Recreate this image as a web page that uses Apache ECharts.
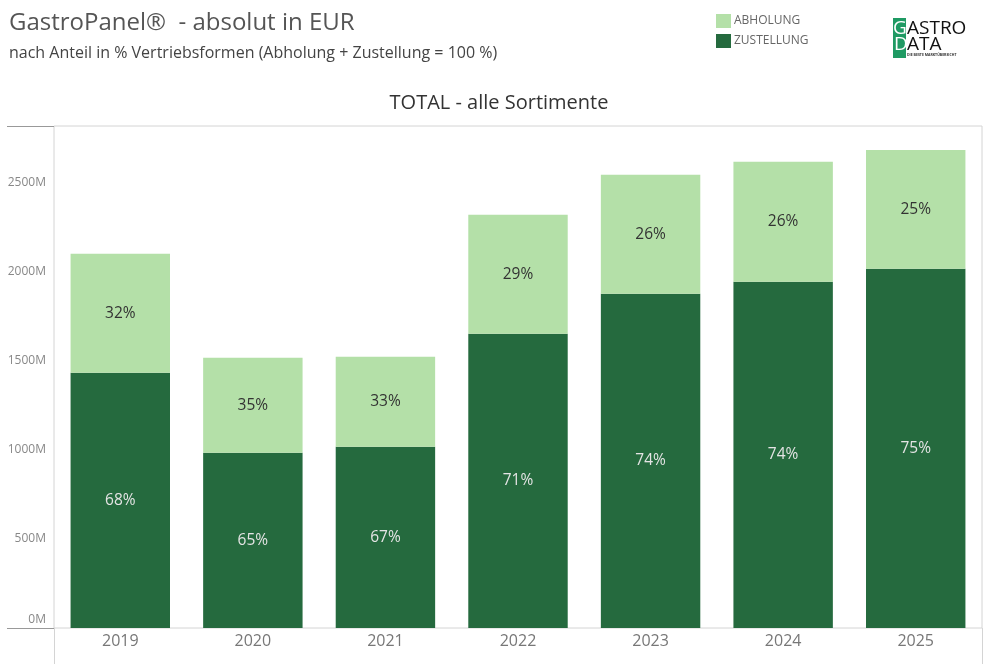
<!DOCTYPE html>
<html><head><meta charset="utf-8">
<script src="https://cdn.jsdelivr.net/npm/echarts@6/dist/echarts.min.js"></script>
<style>html,body{margin:0;padding:0;background:#fff}#c{width:988px;height:664px}</style>
</head><body><div id="c"></div>
<script>
// Data (values in million EUR)
const years = ['2019','2020','2021','2022','2023','2024','2025'];
const abholung = [667, 532, 504, 667, 666, 673, 667];
const zustellung = [1431, 983, 1017, 1650, 1875, 1941, 2014];
const yTicks = [0, 500, 1000, 1500, 2000, 2500];

const totals = years.map((_, i) => abholung[i] + zustellung[i]);
const pct = (v, i) => Math.round(v / totals[i] * 100) + '%';

const FONT = 'Open Sans';
const chart = echarts.init(document.getElementById('c'), null, {renderer: 'canvas'});
const grid = {left: 54, right: 6, top: 126, bottom: 36};

chart.setOption({
  animation: false,
  textStyle: {fontFamily: FONT},
  title: [
    {text: 'GastroPanel®  - absolut in EUR', left: 4, top: 6,
     textStyle: {fontFamily: FONT, fontSize: 24, fontWeight: 'normal', color: '#555'}},
    {text: 'nach Anteil in % Vertriebsformen (Abholung + Zustellung = 100 %)', left: 4, top: 40,
     textStyle: {fontFamily: FONT, fontSize: 16, fontWeight: 'normal', color: '#444'}},
    {text: 'TOTAL - alle Sortimente', left: 494, textAlign: 'center', top: 88,
     textStyle: {fontFamily: FONT, fontSize: 20, fontWeight: 'normal', color: '#333'}}
  ],
  legend: {
    orient: 'vertical', left: 711, top: 9, itemWidth: 15, itemHeight: 14, itemGap: 6,
    icon: 'rect',
    textStyle: {fontFamily: FONT, fontSize: 12, color: '#666', padding: [0,0,0,-2]},
    data: ['ABHOLUNG', 'ZUSTELLUNG']
  },
  grid: Object.assign({show: true, borderColor: '#d4d4d4', borderWidth: 1}, grid),
  xAxis: {
    type: 'category', data: years,
    axisLine: {show: false}, axisTick: {show: false},
    axisLabel: {fontFamily: FONT, fontSize: 16, color: '#777', margin: 5}
  },
  yAxis: {
    type: 'value', min: 0, max: 2815, interval: 500,
    splitLine: {show: false}, axisLine: {show: false}, axisTick: {show: false},
    axisLabel: {
      fontFamily: FONT, fontSize: 12, color: '#888', margin: 8,
      showMaxLabel: false,
      formatter: v => v === 0 ? '{z|0M}' : (yTicks.includes(v) ? v + 'M' : ''),
      rich: {z: {fontFamily: FONT, fontSize: 12, color: '#888', padding: [0, 0, 16, 0]}},
      verticalAlign: 'middle'
    }
  },
  series: [
    {name: 'ZUSTELLUNG', type: 'bar', stack: 't', barWidth: '75%',
     itemStyle: {color: '#256a3e'},
     label: {show: true, position: 'inside', fontFamily: FONT, fontSize: 15.5, color: '#e4e4e4',
             formatter: p => pct(p.value, p.dataIndex)},
     data: zustellung},
    {name: 'ABHOLUNG', type: 'bar', stack: 't', barWidth: '75%',
     itemStyle: {color: '#b4e0a8'},
     label: {show: true, position: 'inside', fontFamily: FONT, fontSize: 15.5, color: '#333',
             formatter: p => pct(p.value, p.dataIndex)},
     data: abholung}
  ],
  graphic: [
    // frame extensions
    {type: 'line', shape: {x1: 7, y1: 126.5, x2: 54, y2: 126.5}, style: {stroke: '#999', lineWidth: 1}},
    {type: 'line', shape: {x1: 7, y1: 628.5, x2: 54, y2: 628.5}, style: {stroke: '#999', lineWidth: 1}},
    {type: 'line', shape: {x1: 54.5, y1: 628, x2: 54.5, y2: 664}, style: {stroke: '#d4d4d4', lineWidth: 1}},
    {type: 'line', shape: {x1: 982.5, y1: 628, x2: 982.5, y2: 664}, style: {stroke: '#d4d4d4', lineWidth: 1}},
    // logo
    {type: 'rect', shape: {x: 893, y: 18, width: 13, height: 40}, style: {fill: '#1f9a63'}},
    {type: 'text', x: 893, y: 19, style: {text: 'G', fill: '#ffffff', font: '19px "Open Sans"'}},
    {type: 'text', x: 907, y: 19, style: {text: 'ASTRO', fill: '#111', font: '19px "Open Sans"'}},
    {type: 'text', x: 894, y: 35, style: {text: 'D', fill: '#ffffff', font: '19px "Open Sans"'}},
    {type: 'text', x: 907, y: 35, style: {text: 'ATA', fill: '#111', font: '19px "Open Sans"'}},
    {type: 'text', x: 907, y: 53, style: {text: 'DIE BESTE MARKTÜBERSICHT', fill: '#333', font: 'bold 3.5px "Open Sans"'}}
  ]
});
</script></body></html>
